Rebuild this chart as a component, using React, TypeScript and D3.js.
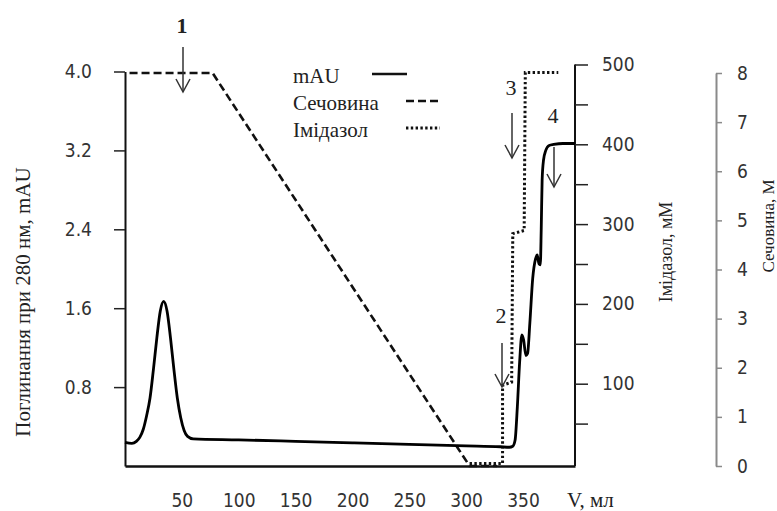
import React, { useRef, useEffect } from 'react'
import * as d3 from 'd3'

// elution volume, ml
const mauVolume = [
  0, 6, 10, 13, 16, 19, 22, 25, 28, 31, 34, 37, 40, 43, 46, 49, 52, 55, 60, 100, 150, 200, 250, 300,
  330, 338, 341, 343, 345, 347, 349, 350.5, 352.5, 354, 356, 358.5, 361, 362.5, 364, 365.2, 366,
  366.8, 368, 370, 373, 377, 385, 395.7,
]
// absorbance 280 nm, mAU
const mauValues = [
  0.24, 0.23, 0.25, 0.29, 0.37, 0.51, 0.69, 0.98, 1.3, 1.57, 1.67, 1.57, 1.3, 0.98, 0.69, 0.49, 0.36,
  0.3, 0.275, 0.265, 0.25, 0.235, 0.22, 0.205, 0.195, 0.19, 0.2, 0.26, 0.6, 1.05, 1.33, 1.28, 1.12,
  1.14, 1.45, 1.9, 2.1, 2.14, 2.05, 2.04, 2.4, 2.9, 3.1, 3.2, 3.25, 3.26, 3.27, 3.27,
]

// urea gradient, M
const ureaVolume = [4, 77, 303, 327]
const ureaValues = [8, 8, 0, 0]

// imidazole steps, mM
const imidVolume = [303, 332, 332, 340, 341, 351, 352, 381]
const imidValues = [0, 0, 98, 102, 288, 292, 490, 490]

const xTicks = [50, 100, 150, 200, 250, 300, 350]
const mauTicks = [0.8, 1.6, 2.4, 3.2, 4.0]
const imidTicks = [50, 100, 150, 200, 250, 300, 350, 400, 450, 500]
const ureaTicks = [0, 1, 2, 3, 4, 5, 6, 7, 8]

const legendItems = ['mAU', 'Сечовина', 'Імідазол']
const legendDash = ['none', '8,4', '2.4,2.4']

// arrow markers (pixel placement of the annotations)
const arrows = [
  { label: '1', x: 183, y0: 47, y1: 92, ty: 33, bold: true },
  { label: '2', x: 502, y0: 343, y1: 387, ty: 323, bold: false },
  { label: '3', x: 512, y0: 113, y1: 158, ty: 95, bold: false },
  { label: '4', x: 554, y0: 147, y1: 187, ty: 123, bold: false },
]

const W = 777
const H = 511
const numFont = '"DejaVu Sans Condensed", "DejaVu Sans", sans-serif'
const serif = '"Liberation Serif", "Times New Roman", serif'

const App = () => {
  const svgRef = useRef(null)

  useEffect(() => {
    const svg = d3.select(svgRef.current)
    svg.selectAll('*').remove()

    const x = d3.scaleLinear().domain([0, 395.7]).range([125, 575])
    const yMau = d3.scaleLinear().domain([0, 4]).range([466, 71.5])
    const yImid = d3.scaleLinear().domain([0, 500]).range([463.5, 64.5])
    const yUrea = d3.scaleLinear().domain([0, 8]).range([466, 73])

    // left axis
    const gl = svg
      .append('g')
      .attr('transform', `translate(${x(0)},0)`)
      .call(
        d3
          .axisLeft(yMau)
          .tickValues(mauTicks)
          .tickFormat(d3.format('.1f'))
          .tickSize(11)
          .tickSizeOuter(0)
          .tickPadding(22),
      )
    gl.select('.domain').attr('stroke', '#111').attr('stroke-width', 2)
    gl.selectAll('.tick line').attr('stroke', '#222').attr('stroke-width', 1.5)
    gl.selectAll('text').attr('font-family', numFont).attr('font-size', 19).attr('fill', '#333')

    // bottom axis
    const gb = svg
      .append('g')
      .attr('transform', 'translate(0,466)')
      .call(d3.axisBottom(x).tickValues(xTicks).tickSize(0).tickSizeOuter(0))
    gb.select('.domain').attr('stroke', '#111').attr('stroke-width', 2.5)
    gb.selectAll('text')
      .attr('y', 41)
      .attr('dy', 0)
      .attr('font-family', numFont)
      .attr('font-size', 19)
      .attr('fill', '#333')

    // imidazole axis
    const gi = svg
      .append('g')
      .attr('transform', `translate(${x(395.7)},0)`)
      .call(
        d3
          .axisRight(yImid)
          .tickValues(imidTicks)
          .tickFormat((d) => (d % 100 === 0 ? String(d) : ''))
          .tickSize(13)
          .tickSizeOuter(0)
          .tickPadding(14),
      )
    gi.select('.domain').attr('d', 'M0,64.5V466').attr('stroke', '#111').attr('stroke-width', 2)
    gi.selectAll('.tick line').attr('stroke', '#222').attr('stroke-width', 1.5)
    gi.selectAll('text').attr('font-family', numFont).attr('font-size', 19).attr('fill', '#333')

    // urea axis
    const gu = svg
      .append('g')
      .attr('transform', 'translate(716,0)')
      .call(d3.axisRight(yUrea).tickValues(ureaTicks).tickSize(6).tickSizeOuter(0).tickPadding(15))
    gu.select('.domain').attr('stroke', '#8a8a8a').attr('stroke-width', 2)
    gu.selectAll('.tick line').attr('stroke', '#8a8a8a').attr('stroke-width', 1.5)
    gu.selectAll('text').attr('font-family', numFont).attr('font-size', 19).attr('fill', '#333')

    // series
    const ureaLine = d3
      .line<number>()
      .x((d, i) => x(ureaVolume[i]))
      .y((d) => yUrea(d))
    svg
      .append('path')
      .attr('d', ureaLine(ureaValues))
      .attr('fill', 'none')
      .attr('stroke', '#111')
      .attr('stroke-width', 2.6)
      .attr('stroke-dasharray', '8,4')

    const imidLine = d3
      .line<number>()
      .x((d, i) => x(imidVolume[i]))
      .y((d) => yImid(d))
    svg
      .append('path')
      .attr('d', imidLine(imidValues))
      .attr('fill', 'none')
      .attr('stroke', '#111')
      .attr('stroke-width', 3)
      .attr('stroke-dasharray', '2.4,2.4')

    const mauLine = d3
      .line<number>()
      .x((d, i) => x(mauVolume[i]))
      .y((d) => yMau(d))
      .curve(d3.curveMonotoneX)
    svg
      .append('path')
      .attr('d', mauLine(mauValues))
      .attr('fill', 'none')
      .attr('stroke', '#000')
      .attr('stroke-width', 2.8)

    // legend
    const lg = svg.append('g')
    legendItems.forEach((name, i) => {
      const by = 83 + i * 27
      lg.append('text')
        .attr('x', 293)
        .attr('y', by)
        .attr('font-family', serif)
        .attr('font-size', 21)
        .attr('fill', '#222')
        .text(name)
      lg.append('line')
        .attr('x1', i === 0 ? 372 : 406)
        .attr('x2', i === 0 ? 407 : 440)
        .attr('y1', by - 9)
        .attr('y2', by - 9)
        .attr('stroke', '#111')
        .attr('stroke-width', i === 2 ? 3 : 2.6)
        .attr('stroke-dasharray', legendDash[i])
    })

    // arrows
    arrows.forEach((a) => {
      const g = svg.append('g').attr('stroke', '#333').attr('stroke-width', 1.5).attr('fill', 'none')
      g.append('line').attr('x1', a.x).attr('x2', a.x).attr('y1', a.y0).attr('y2', a.y1)
      g.append('path').attr('d', `M${a.x - 7},${a.y1 - 13}L${a.x},${a.y1}L${a.x + 7},${a.y1 - 13}`)
      svg
        .append('text')
        .attr('x', a.x - 1)
        .attr('y', a.ty)
        .attr('text-anchor', 'middle')
        .attr('font-family', serif)
        .attr('font-size', 22)
        .attr('font-weight', a.bold ? 'bold' : 'normal')
        .attr('fill', '#222')
        .text(a.label)
    })

    // axis titles
    svg
      .append('text')
      .attr('transform', 'translate(30,302) rotate(-90)')
      .attr('text-anchor', 'middle')
      .attr('font-family', serif)
      .attr('font-size', 21)
      .attr('fill', '#222')
      .text('Поглинання при 280 нм, mAU')
    svg
      .append('text')
      .attr('transform', 'translate(672,252) rotate(-90)')
      .attr('text-anchor', 'middle')
      .attr('font-family', serif)
      .attr('font-size', 18)
      .attr('fill', '#222')
      .text('Імідазол, мМ')
    svg
      .append('text')
      .attr('transform', 'translate(774,226) rotate(-90)')
      .attr('text-anchor', 'middle')
      .attr('font-family', serif)
      .attr('font-size', 17)
      .attr('fill', '#222')
      .text('Сечовина, М')
    svg
      .append('text')
      .attr('x', 567)
      .attr('y', 507)
      .attr('font-family', serif)
      .attr('font-size', 21)
      .attr('fill', '#222')
      .text('V, мл')
  }, [])

  return (
    <svg
      ref={svgRef}
      width={W}
      height={H}
      style={{ position: 'absolute', left: 0, top: 0, background: '#fff' }}
    />
  )
}

export default App
